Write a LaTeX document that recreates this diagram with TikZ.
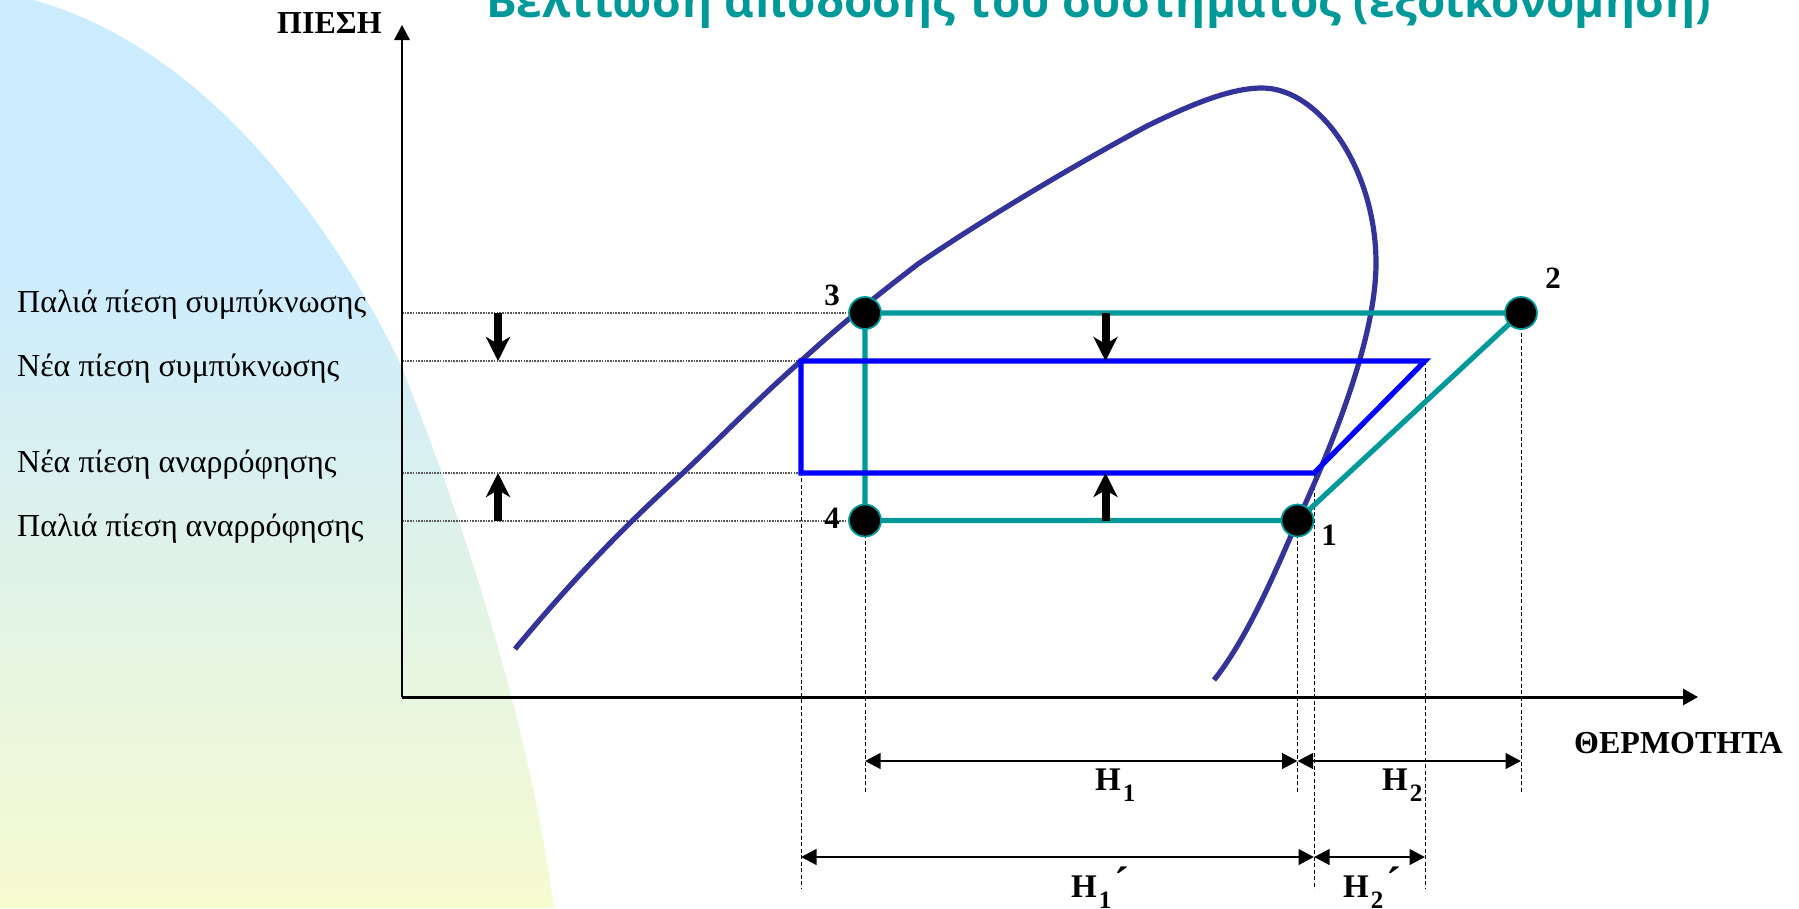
\documentclass[tikz,border=0pt]{standalone}
\usepackage{fontspec}
\setmainfont{Liberation Serif}
\newfontfamily\titlefont{Open Sans}
\usetikzlibrary{arrows.meta}
\definecolor{teal1}{HTML}{009999}
\definecolor{blue1}{HTML}{0000FF}
\definecolor{navy1}{HTML}{333399}
\definecolor{bgblue}{HTML}{CBEBFF}
\definecolor{bgyel}{HTML}{F7FBD0}
\pgfdeclareverticalshading{bgshade}{100bp}{color(0bp)=(bgyel); color(25bp)=(bgyel); color(61bp)=(bgblue); color(100bp)=(bgblue)}
\tikzset{
 x=1pt,y=-1pt,
 cyc/.style={line width=5.2pt,line cap=round},
 dot/.style={circle,fill=black,draw=teal1,line width=1.8pt,minimum size=32pt,inner sep=0pt},
 dim/.style={line width=2.8pt,{Triangle[length=15.5pt,width=15.5pt]}-{Triangle[length=15.5pt,width=15.5pt]}},
 lead/.style={line width=.9pt,dash pattern=on 4pt off 2.5pt},
 level/.style={line width=1.6pt,black!65,dash pattern=on 1.6pt off 1.1pt},
 bigarrow/.style={line width=8pt,-{Stealth[length=24pt,width=24pt,inset=7pt]}},
 lab/.style={font=\fontsize{32}{32}\selectfont,anchor=base west,inner sep=0pt},
 num/.style={font=\fontsize{31}{31}\selectfont\bfseries,anchor=center,inner sep=0pt},
 hlab/.style={font=\fontsize{33}{33}\selectfont\bfseries,anchor=base west,inner sep=0pt},
 axlab/.style={font=\fontsize{32}{32}\selectfont\bfseries,anchor=base west,inner sep=0pt},
}
\newcommand{\subdig}[1]{\hspace{2pt}\raisebox{-11.5pt}{\fontsize{25}{25}\selectfont\bfseries #1}}
\newcommand{\primemark}{\hspace{3pt}{\fontsize{44}{44}\selectfont\bfseries ´}}
\begin{document}
\begin{tikzpicture}
\useasboundingbox (0,0) rectangle (1799,908);
\begin{scope}
\clip (0,0) rectangle (1799,908);
% background lobe
\path[shading=bgshade] (33,0) .. controls (100,18) and (170,60) .. (233,123)
 .. controls (290,180) and (350,260) .. (400,363)
 .. controls (455,500) and (525,700) .. (554,908)
 -- (0,908) -- (0,0) -- cycle;
% title
\node[inner sep=0pt,anchor=base west,text=teal1,font=\fontsize{45.8}{46}\selectfont\titlefont\bfseries] (title) at (486,17) {Βελτίωση απόδοσης του συστήματος (εξοικονόμηση)};
\end{scope}
% named points
\coordinate (o) at (402,697);
\coordinate (ytip) at (402,25);
\coordinate (xtip) at (1698,697);
\coordinate (pa) at (402,313);
\coordinate (pb) at (402,361);
\coordinate (pc) at (402,473);
\coordinate (pd) at (402,521);
\coordinate (a) at (801,361);
\coordinate (b) at (1425,361);
\coordinate (c) at (1314,473);
\coordinate (d) at (801,473);
% leads
\draw[lead] (a) -- (801,889);
\draw[lead] (865,521) -- (865,792);
\draw[lead] (1297.5,521) -- (1297.5,793);
\draw[lead] (c) -- (1314,889);
\draw[lead] (b) -- (1425,889);
\draw[lead] (1521,313) -- (1521,793);
\draw[level] (pa) -- (865,313);
\draw[level] (pb) -- (a);
\draw[level] (pc) -- (d);
\draw[level] (pd) -- (865,521);
% axes
\draw[line width=1.8pt,-{Triangle[length=15pt,width=15.5pt]}] (o) -- (ytip);
\draw[line width=3pt,-{Triangle[length=15pt,width=16pt]}] (o) -- (xtip);
% saturation curve
\draw[navy1,line width=5.2pt] (515,649) .. controls (570,583) and (620,530) .. (683,473)
 .. controls (720,438) and (760,397) .. (801,361)
 .. controls (840,325) and (880,293) .. (918,264)
 .. controls (985,218) and (1080,162) .. (1147,126)
 .. controls (1190,105) and (1230,88) .. (1262,88)
 .. controls (1320,88) and (1376,170) .. (1376,263)
 .. controls (1376,340) and (1330,450) .. (1297.5,521)
 .. controls (1280,560) and (1250,635) .. (1214,680);
% cycle lines
\coordinate (n3c) at (865,313);
\coordinate (n2c) at (1521,313);
\coordinate (n1c) at (1297.5,520.5);
\coordinate (n4c) at (865,520.5);
\draw[teal1,cyc] (n3c) -- (n2c) -- (n1c) -- (n4c) -- cycle;
\draw[blue1,line width=5.2pt,line join=miter] (a) -- (b) -- (c) -- (d) -- cycle;
\node[dot] (n3) at (n3c) {};
\node[dot] (n2) at (n2c) {};
\node[dot] (n1) at (n1c) {};
\node[dot] (n4) at (n4c) {};
% pressure arrows
\coordinate (m1) at (498,313); \coordinate (m2) at (498,361);
\coordinate (m3) at (498,521); \coordinate (m4) at (498,473);
\coordinate (m5) at (1105.5,313); \coordinate (m6) at (1105.5,361);
\coordinate (m7) at (1105.5,521); \coordinate (m8) at (1105.5,473);
\draw[bigarrow] (m1) -- (m2);
\draw[bigarrow] (m3) -- (m4);
\draw[bigarrow] (m5) -- (m6);
\draw[bigarrow] (m7) -- (m8);
% dimension arrows
\coordinate (d1a) at (865,761); \coordinate (d1b) at (1297.5,761); \coordinate (d1c) at (1521,761);
\coordinate (d2a) at (801,857); \coordinate (d2b) at (1314,857); \coordinate (d2c) at (1425,857);
\draw[dim] (d1a) -- (d1b);
\draw[dim] (d1b) -- (d1c);
\draw[dim] (d2a) -- (d2b);
\draw[dim] (d2b) -- (d2c);
% texts
\node[axlab] (ly) at (277,33) {ΠΙΕΣΗ};
\node[axlab] (lx) at (1574,753) {ΘΕΡΜΟΤΗΤΑ};
\node[lab] (t1) at (17,312) {Παλιά πίεση συμπύκνωσης};
\node[lab] (t2) at (17,376) {Νέα πίεση συμπύκνωσης};
\node[lab] (t3) at (17,472) {Νέα πίεση αναρρόφησης};
\node[lab] (t4) at (17,536) {Παλιά πίεση αναρρόφησης};
\node[num] (l3) at (832,295) {3};
\node[num] (l2) at (1553,278) {2};
\node[num] (l4) at (832,518) {4};
\node[num] (l1) at (1329,535) {1};
\node[hlab] (h1) at (1095,790) {Η\subdig{1}};
\node[hlab] (h2) at (1382,790) {Η\subdig{2}};
\node[hlab] (h1p) at (1071,897) {Η\subdig{1}\primemark};
\node[hlab] (h2p) at (1343,897) {Η\subdig{2}\primemark};
\end{tikzpicture}
\end{document}
